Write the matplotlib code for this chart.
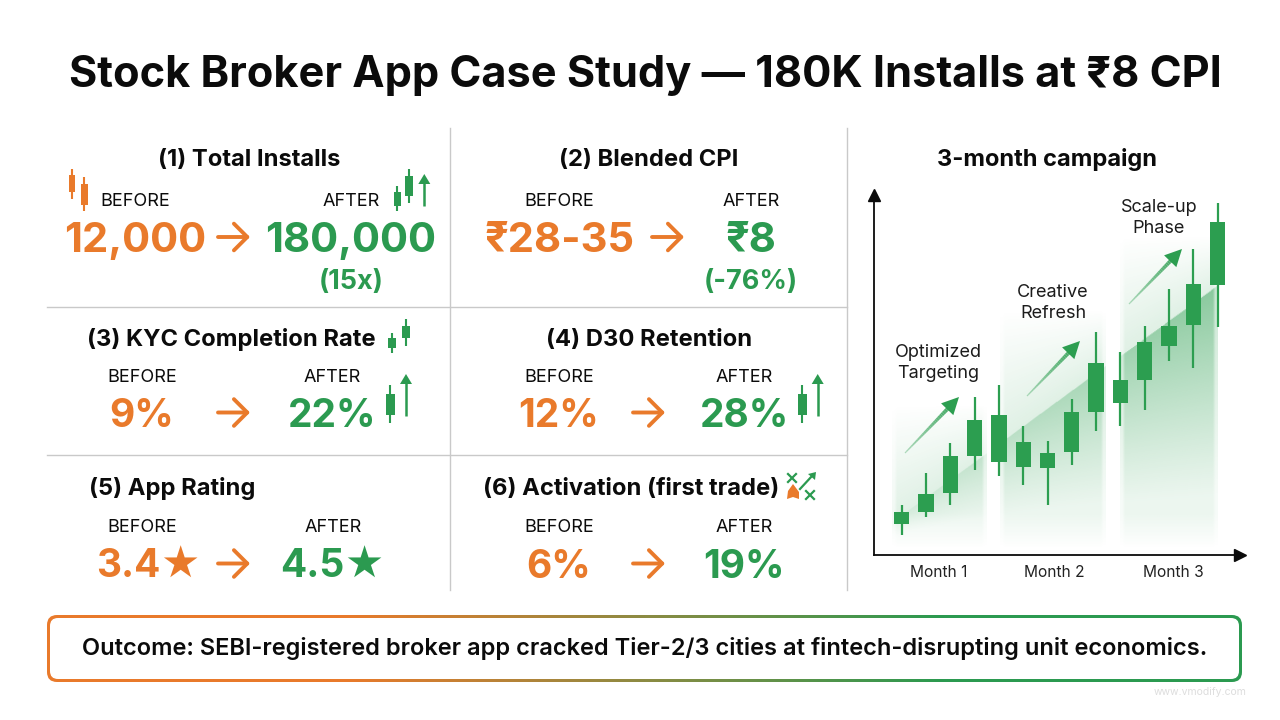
#!/usr/bin/env python3

import matplotlib
matplotlib.use("Agg")
import matplotlib.pyplot as plt
import numpy as np
from matplotlib.collections import LineCollection
from matplotlib.colors import LinearSegmentedColormap, to_rgb
from matplotlib.patches import FancyArrowPatch, FancyBboxPatch, Polygon, Rectangle

plt.rcParams["font.family"] = ["Inter", "Roboto", "DejaVu Sans"]

ORANGE = "#E97A2B"
GREEN = "#2B9A50"
CANDLE = "#2C9E50"
INK = "#0B0B0B"
GRID = "#C9C9C9"

TITLE = "Stock Broker App Case Study — 180K Installs at ₹8 CPI"
OUTCOME = "Outcome: SEBI-registered broker app cracked Tier-2/3 cities at fintech-disrupting unit economics."

PANEL_TITLES = [
    "(1) Total Installs",
    "(2) Blended CPI",
    "(3) KYC Completion Rate",
    "(4) D30 Retention",
    "(5) App Rating",
    "(6) Activation (first trade)",
]
BEFORE_VALUES = ["12,000", "₹28-35", "9%", "12%", "3.4★", "6%"]
AFTER_VALUES = ["180,000", "₹8", "22%", "28%", "4.5★", "19%"]
AFTER_NOTES = ["(15x)", "(-76%)", "", "", "", ""]

# pixel layout of each panel: title x, title baseline, before x, after x, label baseline, value baseline, arrow x, value size
PANEL_LAYOUT = [
    (249, 166, 135, 351, 206, 251.5, 234, 30),
    (649, 166, 559, 751, 206, 251.5, 668, 30),
    (231, 346, 142, 332, 381.5, 427, 234, 28),
    (649, 346, 559, 744, 381.5, 427, 649, 28),
    (172, 495, 149, 333, 532.5, 578, 234, 28),
    (631, 495, 559, 744, 532.5, 578, 649, 28),
]

CHART_TITLE = "3-month campaign"
MONTHS = ["Month 1", "Month 2", "Month 3"]
MONTH_POSITIONS = [1.52, 6.3, 11.16]

# candlestick values, in chart units above the x axis
WICK_HIGH = [50, 81.7, 111.7, 158.3, 170, 128.7, 114, 156.3, 222.7, 203.3, 229, 265.7, 306.3, 352.3]
BODY_TOP = [42.7, 61.3, 99.3, 134.7, 139.7, 112.7, 101.7, 142.7, 192, 175, 213, 229, 271, 333]
BODY_BOTTOM = [31.3, 43.3, 62, 99, 93.3, 88, 87.3, 102.7, 143, 152, 175, 209, 229.7, 270.3]
WICK_LOW = [20, 38.3, 50, 85, 79.3, 70, 50, 90.3, 123.7, 128.7, 144.7, 194.3, 187.3, 228.3]

# phase backgrounds: first index, last index, top value
PHASE_SPANS = [(-0.41, 3.47, 150), (4.05, 8.4, 245), (8.98, 13.0, 320)]

PHASE_LABELS = ["Optimized\nTargeting", "Creative\nRefresh", "Scale-up\nPhase"]
PHASE_LABEL_POS = [(938, 363), (1053, 303), (1159, 218)]
PHASE_ARROWS = [((905, 453), (959, 397)), ((1027, 396), (1080, 341)), ((1129, 304), (1182, 249))]


def icon_candle(axis, x, wick_top, body_top, body_bottom, wick_bottom, width, color):
    axis.plot([x, x], [wick_top, wick_bottom], color=color, lw=1.5, solid_capstyle="butt")
    axis.add_patch(Rectangle((x - width / 2, body_top), width, body_bottom - body_top, color=color, lw=0))


def icon_arrow(axis, x, y_from, y_to, color=GREEN):
    axis.plot([x, x], [y_from, y_to + 8], color=color, lw=1.8, solid_capstyle="butt")
    axis.add_patch(Polygon([(x - 6, y_to + 10), (x + 6, y_to + 10), (x, y_to)], color=color, lw=0))


def draw_icons(axis):
    icon_candle(axis, 72, 169, 175, 192, 199, 6, ORANGE)
    icon_candle(axis, 84, 177, 184, 205, 211, 7, ORANGE)
    icon_candle(axis, 397.3, 186, 192, 206, 211, 7.5, GREEN)
    icon_candle(axis, 409.3, 169, 176, 196, 203, 8, GREEN)
    icon_arrow(axis, 424.3, 206, 174)

    icon_candle(axis, 392.3, 333, 338, 348, 353, 8, GREEN)
    icon_candle(axis, 405.7, 319, 326, 338, 346, 8, GREEN)
    icon_candle(axis, 390, 385, 394, 415, 423, 9, GREEN)
    icon_arrow(axis, 406, 416, 374)

    icon_candle(axis, 802.3, 385, 394, 415, 423, 9, GREEN)
    icon_arrow(axis, 817.7, 416, 374)

    for cx, cy in [(792, 478), (810, 495)]:
        axis.plot([cx - 4, cx + 4], [cy - 4, cy + 4], color=GREEN, lw=1.6)
        axis.plot([cx - 4, cx + 4], [cy + 4, cy - 4], color=GREEN, lw=1.6)
    axis.plot([800, 812], [489, 476], color=GREEN, lw=1.6)
    axis.add_patch(Polygon([(816, 472), (815, 480), (808, 474)], color=GREEN, lw=0))
    axis.add_patch(Polygon([(787, 499), (788, 491), (793, 484), (799, 492), (799, 499), (793, 497)], color=ORANGE, lw=0))


def draw_panels(axis):
    for x in (450, 847):
        axis.plot([x, x], [128, 590], color=GRID, lw=1)
    for y in (307, 455):
        axis.plot([47, 847], [y, y], color=GRID, lw=1)

    for i, name in enumerate(PANEL_TITLES):
        title_x, title_y, before_x, after_x, label_y, value_y, arrow_x, value_size = PANEL_LAYOUT[i]
        axis.text(title_x, title_y, name, ha="center", va="baseline", fontsize=17.1, fontweight="bold", color=INK)
        axis.text(before_x - (7 if i == 4 else 0), label_y, "BEFORE", ha="center", va="baseline", fontsize=13, color=INK)
        axis.text(after_x, label_y, "AFTER", ha="center", va="baseline", fontsize=13, color=INK)
        axis.text(before_x, value_y, BEFORE_VALUES[i], ha="center", va="baseline", fontsize=value_size, fontweight="bold", color=ORANGE)
        axis.text(after_x, value_y, AFTER_VALUES[i], ha="center", va="baseline", fontsize=value_size, fontweight="bold", color=GREEN)
        if AFTER_NOTES[i]:
            axis.text(after_x, value_y + 37.5, AFTER_NOTES[i], ha="center", va="baseline", fontsize=19.5, fontweight="bold", color=GREEN)
        axis.add_patch(FancyArrowPatch(
            (arrow_x - 16, value_y - 14.5),
            (arrow_x + 16, value_y - 14.5),
            arrowstyle="->,head_length=6,head_width=6",
            mutation_scale=1.6,
            color=ORANGE,
            lw=2.8,
            shrinkA=0,
            shrinkB=0,
        ))


def draw_phase_backgrounds(axis):
    rgb = np.array(to_rgb(CANDLE))
    for left, right, top in PHASE_SPANS:
        xs = np.linspace(left, right, 200)
        ys = np.linspace(6, top, 300)
        grid_x, grid_y = np.meshgrid(xs, ys)
        ridge = 75 + 17.7 * (grid_x - 2)
        strength = 0.2 + 0.36 * grid_x / 13
        below = strength * np.clip(grid_y / ridge, 0, 1) ** 1.2
        above = 0.15 * np.clip((top - grid_y) / (top - ridge), 0, 1)
        alpha = np.where(grid_y < ridge, np.maximum(below, 0.09), above)
        alpha *= np.clip((grid_y - 6) / 35, 0, 1)
        alpha *= np.clip((grid_x - left) / 0.2, 0.45, 1) * np.clip((right - grid_x) / 0.2, 0.45, 1)
        image = np.zeros(grid_x.shape + (4,))
        image[..., :3] = rgb
        image[..., 3] = alpha
        axis.imshow(image, extent=(left, right, 6, top), origin="lower", aspect="auto", zorder=1, interpolation="bilinear")


def draw_chart(figure, canvas):
    left, right, top, bottom = 873.5, 1240, 195, 555
    chart = figure.add_axes([left / 1280, 1 - bottom / 720, (right - left) / 1280, (bottom - top) / 720], zorder=1)
    chart.patch.set_alpha(0)
    draw_phase_backgrounds(chart)

    index = np.arange(len(BODY_TOP))
    chart.vlines(index, WICK_LOW, WICK_HIGH, color=CANDLE, lw=1.6, zorder=3)
    chart.bar(index, np.subtract(BODY_TOP, BODY_BOTTOM), bottom=BODY_BOTTOM, width=0.63, color=CANDLE, zorder=4)

    chart.set_xlim((left - 901.7) / 24.3, (right - 901.7) / 24.3)
    chart.set_ylim(0, bottom - top)
    chart.spines[["top", "right"]].set_visible(False)
    chart.spines[["left", "bottom"]].set_linewidth(1.3)
    chart.spines[["left", "bottom"]].set_color(INK)
    chart.set_yticks([])
    chart.set_xticks(MONTH_POSITIONS, MONTHS, fontsize=11.2, color="#222222")
    chart.tick_params(axis="x", length=0, pad=7.5)
    chart.plot(1, 0, ">", color=INK, ms=8, transform=chart.transAxes, clip_on=False, zorder=5)
    chart.plot(0, 1, "^", color=INK, ms=8, transform=chart.transAxes, clip_on=False, zorder=5)

    canvas.text(1047, 166, CHART_TITLE, ha="center", va="baseline", fontsize=17, fontweight="bold", color=INK)

    for label, (x, y) in zip(PHASE_LABELS, PHASE_LABEL_POS):
        canvas.text(x, y, label, ha="center", va="center", fontsize=13, color="#1c1c1c", linespacing=1.3)

    rgb = to_rgb(CANDLE)
    for (x0, y0), (x1, y1) in PHASE_ARROWS:
        steps = np.linspace(0, 0.86, 30)
        px = x0 + (x1 - x0) * steps
        py = y0 + (y1 - y0) * steps
        segments = np.stack([np.column_stack([px[:-1], py[:-1]]), np.column_stack([px[1:], py[1:]])], axis=1)
        colors = [(*rgb, 0.35 + 0.65 * s) for s in steps[:-1]]
        canvas.add_collection(LineCollection(segments, colors=colors, linewidths=0.9 + 2.5 * steps[:-1]))
        ux, uy = (x1 - x0), (y1 - y0)
        norm = np.hypot(ux, uy)
        ux, uy = ux / norm, uy / norm
        base = (x1 - 17 * ux, y1 - 17 * uy)
        canvas.add_patch(Polygon(
            [(x1, y1), (base[0] - 8.5 * uy, base[1] + 8.5 * ux), (base[0] + 8.5 * uy, base[1] - 8.5 * ux)],
            color=CANDLE,
            lw=0,
        ))


def draw_outcome(axis):
    x0, x1, y0, y1 = 47, 1242, 615, 682
    outer = FancyBboxPatch((x0, y0), x1 - x0, y1 - y0, boxstyle="round,pad=0,rounding_size=10", transform=axis.transData, fc="none", ec="none")
    axis.add_patch(outer)
    ramp = LinearSegmentedColormap.from_list("outcome", [ORANGE, ORANGE, "#8C8B43", GREEN, GREEN], N=256)
    gradient = np.linspace(0, 1, 512)[None, :]
    image = axis.imshow(gradient, cmap=ramp, extent=(x0, x1, y1, y0), aspect="auto", zorder=2)
    image.set_clip_path(outer)
    axis.add_patch(FancyBboxPatch((x0 + 3, y0 + 3), x1 - x0 - 6, y1 - y0 - 6, boxstyle="round,pad=0,rounding_size=8", fc="white", ec="none", zorder=3))
    axis.text(645, 655, OUTCOME, ha="center", va="baseline", fontsize=17, fontweight="semibold", color=INK, zorder=4)
    axis.text(1200, 692, "www.vmodify.com", ha="center", va="center", fontsize=7.5, color="#DDDDDD", zorder=4)


def main():
    figure = plt.figure(figsize=(12.8, 7.2), dpi=100, facecolor="white")
    canvas = figure.add_axes([0, 0, 1, 1], zorder=2)
    canvas.patch.set_alpha(0)

    canvas.text(645, 87.5, TITLE, ha="center", va="baseline", fontsize=31.2, fontweight="bold", color=INK)
    draw_panels(canvas)
    draw_icons(canvas)
    draw_chart(figure, canvas)
    draw_outcome(canvas)

    canvas.set_xlim(0, 1280)
    canvas.set_ylim(720, 0)
    canvas.axis("off")
    figure.savefig("out.png", dpi=100)


if __name__ == "__main__":
    main()
